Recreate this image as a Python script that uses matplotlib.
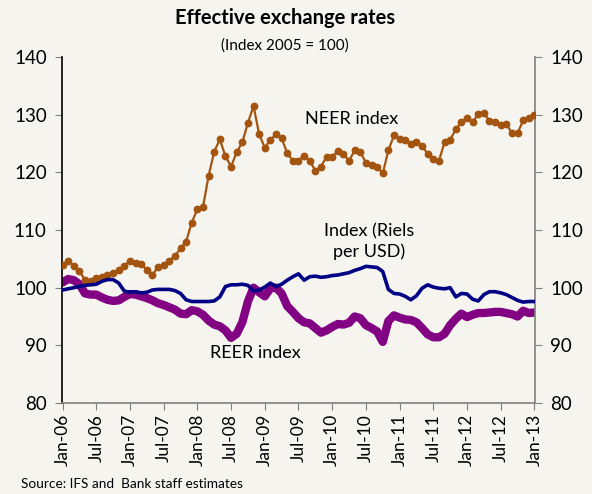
import numpy as np
import matplotlib
matplotlib.use("Agg")
from matplotlib import pyplot as plt

plt.rcParams['font.family'] = ['Lato', 'DejaVu Sans']

# monthly data, Jan-06 .. Jan-13
neer = [103.9, 104.7, 103.8, 102.9, 101.3, 101.2, 101.6, 101.9, 102.2, 102.5,
        103.1, 103.8, 104.7, 104.3, 104.1, 103.1, 102.2, 103.6, 103.9, 104.7,
        105.5, 106.8, 108.0, 111.3, 113.6, 114.0, 119.4, 123.6, 125.7, 122.8,
        121.0, 123.5, 125.2, 128.6, 131.5, 126.6, 124.3, 125.6, 126.6, 125.9,
        123.3, 122.0, 122.0, 122.9, 122.0, 120.3, 121.0, 122.7, 122.7, 123.7,
        123.2, 122.0, 123.8, 123.5, 121.7, 121.2, 121.0, 119.8, 123.8, 126.4,
        125.7, 125.6, 124.9, 125.2, 124.6, 123.2, 122.4, 122.0, 125.2, 125.6,
        127.5, 128.7, 129.5, 128.7, 130.1, 130.3, 128.9, 128.7, 128.2, 128.4,
        126.8, 126.8, 129.0, 129.5, 129.9]

riels = [99.6, 99.8, 100.0, 100.2, 100.4, 100.5, 100.6, 101.1, 101.4, 101.4,
         100.8, 99.4, 99.2, 99.3, 99.1, 99.2, 99.6, 99.7, 99.7, 99.7,
         99.5, 99.0, 97.9, 97.6, 97.6, 97.6, 97.6, 97.7, 98.4, 100.2,
         100.5, 100.5, 100.6, 100.4, 99.4, 99.6, 100.1, 100.8, 100.2, 100.6,
         101.3, 101.9, 102.4, 101.3, 101.9, 102.0, 101.8, 101.9, 102.1, 102.2,
         102.4, 102.6, 103.0, 103.3, 103.7, 103.6, 103.5, 102.8, 99.7, 99.0,
         98.9, 98.5, 97.9, 98.6, 99.9, 100.5, 100.1, 99.9, 99.8, 100.0,
         98.4, 99.0, 98.9, 98.0, 97.7, 98.8, 99.3, 99.3, 99.1, 98.8,
         98.3, 97.8, 97.5, 97.6, 97.6]

reer = [100.9, 101.5, 101.3, 100.6, 99.0, 98.8, 98.8, 98.3, 97.9, 97.7,
        97.8, 98.4, 98.9, 98.8, 98.5, 98.2, 97.8, 97.3, 97.0, 96.6,
        96.2, 95.5, 95.4, 96.1, 95.9, 95.3, 94.3, 93.6, 93.3, 92.6,
        91.3, 92.0, 94.0, 97.6, 100.0, 99.2, 98.5, 99.9, 100.0, 99.0,
        96.8, 95.8, 94.7, 94.0, 93.8, 93.0, 92.2, 92.6, 93.2, 93.7,
        93.6, 93.9, 95.0, 94.7, 93.5, 93.0, 92.4, 90.6, 94.2, 95.2,
        94.8, 94.5, 94.4, 94.0, 93.0, 91.9, 91.4, 91.4, 92.0, 93.5,
        94.6, 95.5, 94.9, 95.3, 95.6, 95.6, 95.7, 95.8, 95.8, 95.6,
        95.4, 95.0, 96.0, 95.6, 95.7]

tick_labels = ['Jan-06', 'Jul-06', 'Jan-07', 'Jul-07', 'Jan-08', 'Jul-08',
               'Jan-09', 'Jul-09', 'Jan-10', 'Jul-10', 'Jan-11', 'Jul-11',
               'Jan-12', 'Jul-12', 'Jan-13']

bg = '#F5F4EF'
months = np.arange(len(neer))

fig = plt.figure(figsize=(5.92, 4.94), dpi=100, facecolor=bg)
ax = fig.add_axes([0.1047, 0.1842, 0.7990, 0.7004])
ax.set_facecolor(bg)

ax.plot(months, neer, color='#A3540F', lw=1.6, marker='o', ms=4.6, zorder=3)
ax.plot(months, riels, color='#000085', lw=2.6, zorder=4)
ax.plot(months, reer, color='#820082', lw=6, solid_capstyle='round', zorder=2)

ax.set_ylim(80, 140)
ax.set_yticks(range(80, 141, 10))
ax.set_xlim(-0.1, 84.1)
ax.set_xticks(range(0, 85, 6))
ax.set_xticklabels(tick_labels, rotation=90)

ax.yaxis.set_ticks_position('both')
ax.tick_params(axis='y', labelright=True, labelsize=13.5, direction='out',
               length=5, color='#808080', pad=6)
ax.tick_params(axis='x', labelsize=12.5, direction='out', length=5,
               color='#808080', pad=3)
ax.spines['top'].set_visible(False)
ax.spines['left'].set_color('#000000')
ax.spines['right'].set_color('#808080')
ax.spines['bottom'].set_color('#808080')
for s in ['left', 'right', 'bottom']:
    ax.spines[s].set_linewidth(1.2)

ax.text(51.5, 129.2, 'NEER index', fontsize=13, ha='center', va='center')
ax.text(54.5, 108.0, 'Index (Riels\nper USD)', fontsize=13, ha='center',
        va='center', linespacing=1.3)
ax.text(34.3, 88.7, 'REER index', fontsize=13, ha='center', va='center')

fig.text(0.482, 0.963, 'Effective exchange rates', fontsize=14.5, weight='bold',
         ha='center', va='center')
fig.text(0.482, 0.907, '(Index 2005 = 100)', fontsize=11, ha='center',
         va='center')
fig.text(0.035, 0.02, 'Source: IFS and  Bank staff estimates', fontsize=9.8,
         ha='left', va='center')

fig.savefig('out.png', dpi=100, facecolor=bg)
